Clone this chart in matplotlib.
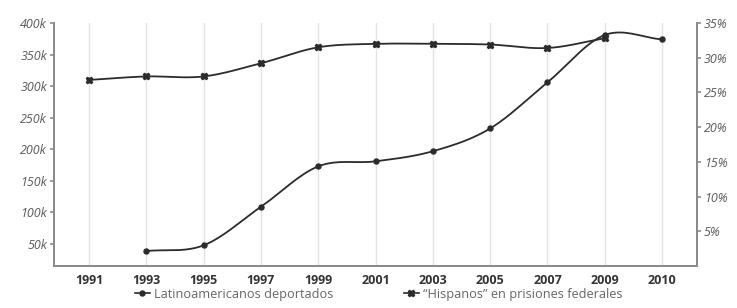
import numpy as np
import matplotlib
matplotlib.use("Agg")
import matplotlib.pyplot as plt
from matplotlib.lines import Line2D

plt.rcParams['font.family'] = ['Open Sans', 'DejaVu Sans']

# data
years = ['1991', '1993', '1995', '1997', '1999', '2001', '2003', '2005', '2007', '2009', '2010']
deportados = [np.nan, 39, 48, 109, 173, 181, 197, 233, 306, 381, 374]   # thousands
hispanos = [26.8, 27.3, 27.3, 29.2, 31.5, 32.0, 32.0, 31.9, 31.4, 32.8, np.nan]  # percent

left_ticks = [50, 100, 150, 200, 250, 300, 350, 400]
right_ticks = [5, 10, 15, 20, 25, 30, 35]

line_col = '#2b2b2b'
spine_col = '#8a8a8a'
tick_col = '#5a5a5a'


def smooth(x, y, n=20):
    # catmull-rom path through the given points (drawing only)
    x = np.asarray(x, float)
    y = np.asarray(y, float)
    ok = ~np.isnan(y)
    x, y = x[ok], y[ok]
    px = np.concatenate([[2 * x[0] - x[1]], x, [2 * x[-1] - x[-2]]])
    py = np.concatenate([[2 * y[0] - y[1]], y, [2 * y[-1] - y[-2]]])
    xs, ys = [], []
    t = np.linspace(0, 1, n)
    for i in range(1, len(px) - 2):
        for p, out in ((px, xs), (py, ys)):
            p0, p1, p2, p3 = p[i - 1], p[i], p[i + 1], p[i + 2]
            out.extend(0.5 * (2 * p1 + (-p0 + p2) * t + (2 * p0 - 5 * p1 + 4 * p2 - p3) * t ** 2
                              + (-p0 + 3 * p1 - 3 * p2 + p3) * t ** 3))
    return np.array(xs), np.array(ys)


fig = plt.figure(figsize=(7.37, 3.08), dpi=100)
ax = fig.add_axes([0.0733, 0.1364, 0.8724, 0.7889])
ax2 = ax.twinx()

xpos = np.arange(len(years))

sx, sy = smooth(xpos, deportados)
ax.plot(sx, sy, color=line_col, lw=1.3, zorder=3)
ax.plot(xpos, deportados, 'o', color=line_col, ms=3.6, zorder=4)

hx, hy = smooth(xpos, hispanos)
ax2.plot(hx, hy, color=line_col, lw=1.3, zorder=3)
ax2.plot(xpos, hispanos, 'X', color=line_col, ms=4.5, zorder=4)

ax.set_xlim(-0.61, len(years) - 1 + 0.61)
ax.set_ylim(15.3, 400)
ax2.set_ylim(0, 35)

ax.set_xticks(xpos)
ax.set_xticklabels(years, fontsize=9, fontweight='bold', color='#333333')
ax.tick_params(axis='x', length=0, pad=6)
ax.grid(axis='x', color='#e3e3e3', lw=1.0, zorder=0)

ax.set_yticks(left_ticks)
ax.set_yticklabels([f'{v}k' for v in left_ticks], fontsize=9, style='italic', color=tick_col)
ax.tick_params(axis='y', length=3, width=1.2, color=spine_col, pad=2)

ax2.set_yticks(right_ticks)
ax2.set_yticklabels([f'{v}%' for v in right_ticks], fontsize=9, style='italic', color=tick_col)
ax2.tick_params(axis='y', length=3, width=1.2, color=spine_col, pad=2)

for a in (ax, ax2):
    a.spines['top'].set_visible(False)
    for s in ('left', 'right', 'bottom'):
        a.spines[s].set_color(spine_col)
        a.spines[s].set_linewidth(1.4)

handles = [
    Line2D([], [], color=line_col, lw=1.2, marker='o', ms=3.6),
    Line2D([], [], color=line_col, lw=1.2, marker='X', ms=4.5),
]
labels = ['Latinoamericanos deportados', '\u201cHispanos\u201d en prisiones federales']
leg = fig.legend(handles, labels, loc='center', bbox_to_anchor=(0.5136, 0.045), ncol=2,
                 frameon=False, fontsize=9.2, handlelength=1.2, handletextpad=0.3,
                 columnspacing=5.5, labelcolor='#666666', borderpad=0.2)

fig.savefig('out.png', dpi=100)
